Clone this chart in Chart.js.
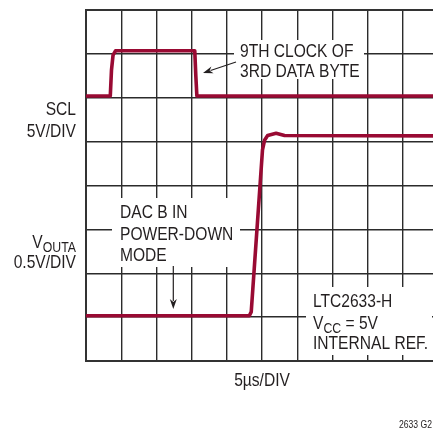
<!DOCTYPE html>
<html>
<head>
<meta charset="utf-8">
<script src="https://cdn.jsdelivr.net/npm/chart.js@4/dist/chart.umd.min.js"></script>
<style>
  html, body { margin: 0; padding: 0; background: #fff; }
  #wrap { width: 433px; height: 431px; overflow: hidden; position: relative; }
  #scope { position: absolute; left: 0; top: 0; }
</style>
</head>
<body>
<div id="wrap"><canvas id="scope" width="445" height="431"></canvas></div>
<script>
// time in µs (5µs/DIV, 10 divisions), level in screen divisions (8 divisions)
const sclTime  = [0, 3.45, 3.62, 3.84, 4.19, 15.45, 15.6, 15.75, 50];
const sclDiv   = [6.04, 6.04, 6.63, 6.97, 7.07, 7.07, 6.5, 6.04, 6.04];
const voutTime = [0, 23.2, 23.47, 25.07, 25.36, 25.8, 27.0, 28.2, 50];
const voutDiv  = [1.03, 1.03, 1.12, 4.81, 5.03, 5.14, 5.19, 5.14, 5.13];
const xMax = 50, xStep = 5;
const yMax = 8, yStep = 1;

const traceColor = '#990a33';
const inkColor = '#231f20';
const gridColor = '#2b2b2b';
const FONT = '"Liberation Sans", Arial, sans-serif';
const NARROW = 0.82; // squeeze to look like a condensed face

function toPoints(xs, ys) {
    return xs.map((x, i) => ({ x: x, y: ys[i] }));
}

function textWidth(ctx, str, size) {
    ctx.font = size + 'px ' + FONT;
    return ctx.measureText(str).width * NARROW;
}

function text(ctx, str, x, y, size, align) {
    ctx.save();
    ctx.font = size + 'px ' + FONT;
    ctx.textAlign = align || 'left';
    ctx.textBaseline = 'alphabetic';
    ctx.translate(x, y);
    ctx.scale(NARROW, 1);
    ctx.fillText(str, 0, 0);
    ctx.restore();
}

// text with subscript
function subText(ctx, main, sub, tail, x, y, size, subSize, align) {
    const w1 = textWidth(ctx, main, size);
    const w2 = textWidth(ctx, sub, subSize);
    const w3 = textWidth(ctx, tail, size);
    const x0 = align === 'right' ? x - (w1 + w2 + w3) : x;
    text(ctx, main, x0, y, size);
    text(ctx, sub, x0 + w1, y + 4, subSize);
    text(ctx, tail, x0 + w1 + w2, y, size);
}

function arrow(ctx, x1, y1, x2, y2) {
    const a = Math.atan2(y2 - y1, x2 - x1);
    const len = 10, half = 3.5;
    ctx.save();
    ctx.strokeStyle = inkColor;
    ctx.fillStyle = inkColor;
    ctx.lineWidth = 1.2;
    ctx.beginPath();
    ctx.moveTo(x1, y1);
    ctx.lineTo(x2 - Math.cos(a) * len * 0.8, y2 - Math.sin(a) * len * 0.8);
    ctx.stroke();
    ctx.beginPath();
    ctx.moveTo(x2, y2);
    ctx.lineTo(x2 - Math.cos(a) * len - Math.sin(a) * half, y2 - Math.sin(a) * len + Math.cos(a) * half);
    ctx.lineTo(x2 - Math.cos(a) * len * 0.7, y2 - Math.sin(a) * len * 0.7);
    ctx.lineTo(x2 - Math.cos(a) * len + Math.sin(a) * half, y2 - Math.sin(a) * len - Math.cos(a) * half);
    ctx.closePath();
    ctx.fill();
    ctx.restore();
}

const scopePlugin = {
    id: 'scopeDecor',
    beforeDatasetsDraw(chart) {
        const ctx = chart.ctx;
        const a = chart.chartArea;
        ctx.save();
        // frame
        ctx.strokeStyle = '#333';
        ctx.lineWidth = 2;
        ctx.strokeRect(a.left, a.top, a.right - a.left, a.bottom - a.top);
        // white label boxes over the graticule
        ctx.fillStyle = '#fff';
        ctx.fillRect(234, 40, 130, 39);
        ctx.fillRect(112, 198, 128, 69);
        ctx.fillRect(306, 287, 126, 68);
        ctx.restore();
    },
    afterDraw(chart) {
        const ctx = chart.ctx;
        ctx.save();
        ctx.fillStyle = inkColor;
        // channel labels
        text(ctx, 'SCL', 76, 115, 19, 'right');
        text(ctx, '5V/DIV', 76, 136.5, 19, 'right');
        subText(ctx, 'V', 'OUTA', '', 76, 248, 19, 15, 'right');
        text(ctx, '0.5V/DIV', 76, 268, 19, 'right');
        // annotations
        text(ctx, '9TH CLOCK OF', 240, 57, 19);
        text(ctx, '3RD DATA BYTE', 240, 77, 19);
        text(ctx, 'DAC B IN', 120, 217.5, 19);
        text(ctx, 'POWER-DOWN', 120, 239.5, 19);
        text(ctx, 'MODE', 120, 261, 19);
        text(ctx, 'LTC2633-H', 313, 307, 19);
        subText(ctx, 'V', 'CC', ' = 5V', 313, 328.5, 19, 15);
        text(ctx, 'INTERNAL REF.', 313, 349, 19);
        // time base + figure id
        text(ctx, '5\u00b5s/DIV', 262, 385.5, 19, 'center');
        text(ctx, '2633 G2', 432, 427.5, 10.5, 'right');
        // arrows
        arrow(ctx, 236, 62, 203, 73);
        arrow(ctx, 173.3, 266, 173.3, 309);
        ctx.restore();
    }
};

const ctx = document.getElementById('scope').getContext('2d');
window.scopeChart = new Chart(ctx, {
    type: 'line',
    data: {
        datasets: [{
            label: 'SCL',
            data: toPoints(sclTime, sclDiv),
            borderColor: traceColor,
            borderWidth: 3.6,
            pointRadius: 0,
            tension: 0,
            borderJoinStyle: 'round'
        }, {
            label: 'VOUTA',
            data: toPoints(voutTime, voutDiv),
            borderColor: traceColor,
            borderWidth: 3.6,
            pointRadius: 0,
            tension: 0,
            borderJoinStyle: 'round'
        }]
    },
    options: {
        responsive: false,
        animation: false,
        devicePixelRatio: 1,
        layout: { padding: { left: 86, top: 10, right: 7, bottom: 70 } },
        plugins: {
            legend: { display: false },
            tooltip: { enabled: false }
        },
        scales: {
            x: {
                type: 'linear',
                min: 0, max: xMax,
                ticks: { display: false, stepSize: xStep },
                grid: { color: gridColor, lineWidth: 1.4, drawTicks: false },
                border: { display: false },
                afterFit: (s) => { s.height = 0; }
            },
            y: {
                type: 'linear',
                min: 0, max: yMax,
                ticks: { display: false, stepSize: yStep },
                grid: { color: gridColor, lineWidth: 1.4, drawTicks: false },
                border: { display: false },
                afterFit: (s) => { s.width = 0; }
            }
        }
    },
    plugins: [scopePlugin]
});
</script>
</body>
</html>
